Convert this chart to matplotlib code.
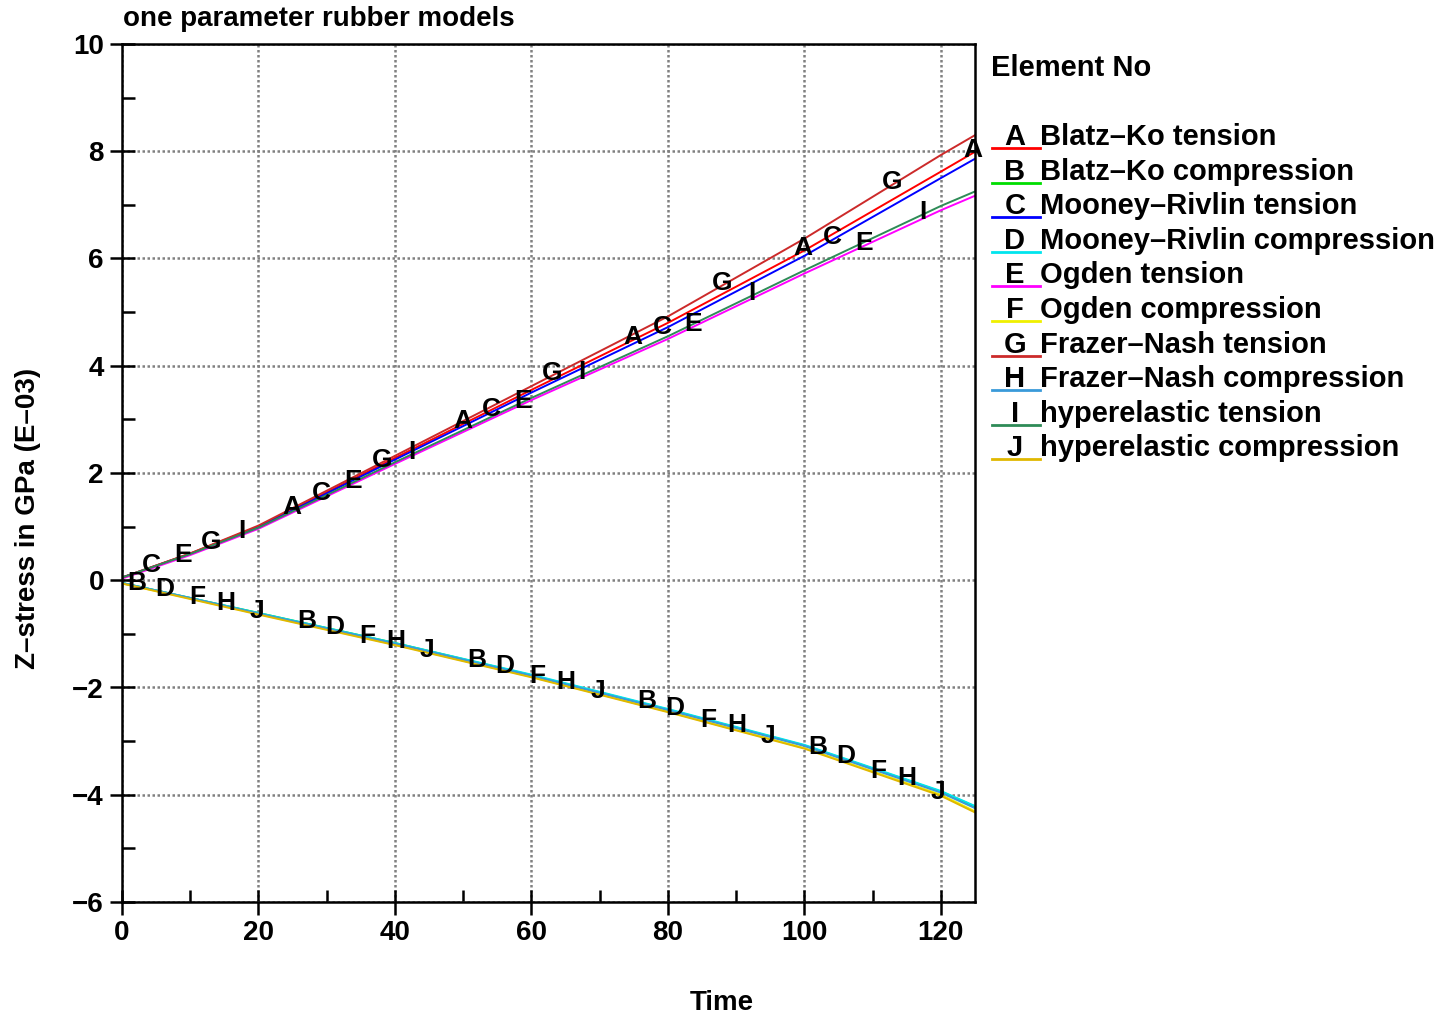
import numpy as np
import matplotlib
matplotlib.use("Agg")
import matplotlib.pyplot as plt
from matplotlib.lines import Line2D

plt.rcParams['font.family'] = ['Liberation Sans', 'DejaVu Sans']
plt.rcParams['font.weight'] = 'bold'

# sample times
time = [0, 10, 20, 40, 60, 80, 100, 120, 125]

# Z-stress in GPa (E-03)
blatz_ko_t = [0.05, 0.50, 1.00, 2.28, 3.55, 4.80, 6.15, 7.62, 7.99]
blatz_ko_c = [-0.05, -0.33, -0.61, -1.17, -1.77, -2.41, -3.08, -3.94, -4.22]
mooney_t = [0.05, 0.49, 0.99, 2.25, 3.50, 4.72, 6.05, 7.50, 7.86]
mooney_c = [-0.05, -0.33, -0.61, -1.17, -1.76, -2.40, -3.07, -3.93, -4.21]
ogden_t = [0.03, 0.47, 0.96, 2.17, 3.36, 4.50, 5.72, 6.90, 7.17]
ogden_c = [-0.06, -0.34, -0.63, -1.20, -1.80, -2.45, -3.13, -4.00, -4.31]
frazer_t = [0.05, 0.50, 1.02, 2.32, 3.62, 4.92, 6.37, 7.93, 8.30]
frazer_c = [-0.05, -0.33, -0.62, -1.18, -1.78, -2.42, -3.09, -3.96, -4.25]
hyper_t = [0.05, 0.49, 0.98, 2.20, 3.40, 4.55, 5.78, 6.98, 7.25]
hyper_c = [-0.06, -0.35, -0.64, -1.21, -1.81, -2.46, -3.14, -4.02, -4.33]

letters = list("ABCDEFGHIJ")
names = ["Blatz-Ko tension", "Blatz-Ko compression",
         "Mooney-Rivlin tension", "Mooney-Rivlin compression",
         "Ogden tension", "Ogden compression",
         "Frazer-Nash tension", "Frazer-Nash compression",
         "hyperelastic tension", "hyperelastic compression"]
series = [blatz_ko_t, blatz_ko_c, mooney_t, mooney_c, ogden_t, ogden_c,
          frazer_t, frazer_c, hyper_t, hyper_c]
colors = ["#ff0000", "#00dd00", "#0000ff", "#00e5ee", "#ff00ff",
          "#f0f000", "#cc2a2a", "#3a9ad9", "#2e8b57", "#e0b800"]

# letter markers: every 25 time units, staggered per series
label_period = 24.95
label_offsets = [0.0, 2.1, 4.3, 6.2, 8.9, 11.0, 13.1, 15.2, 17.5, 19.8]

fig = plt.figure(figsize=(14.5, 10.21), dpi=100)
ax = fig.add_axes([122 / 1450, 1 - 902 / 1021, (975 - 122) / 1450, (902 - 44) / 1021])

for name, ys, col, let, off in zip(names, series, colors, letters, label_offsets):
    ax.plot(time, ys, color=col, lw=1.4)
    lx = off + label_period * np.arange(0, 6)
    lx = lx[(lx > 1.0) & (lx <= 125)]
    ly = np.interp(lx, time, ys)
    for xx, yy in zip(lx, ly):
        ax.annotate(let, (xx, yy), xytext=(0, 2), textcoords='offset points',
                    ha='center', va='center', fontsize=19, fontweight='bold',
                    annotation_clip=False)

ax.set_xlim(0, 125)
ax.set_ylim(-6, 10)
ax.set_xticks(range(0, 121, 20))
ax.set_xticks(range(10, 125, 20), minor=True)
ax.set_yticks(range(-6, 11, 2))
ax.set_yticks(range(-5, 10, 2), minor=True)
ax.grid(True, which='major', color='#808080', linestyle=(0, (1, 1)), lw=1.8)
ax.tick_params(which='major', direction='inout', length=18, width=1.8,
               labelsize=20, pad=4)
ax.tick_params(which='minor', direction='in', length=9, width=1.8)
for sp in ax.spines.values():
    sp.set_linewidth(1.8)

fig.text(722 / 1450, 1 - 1003 / 1021, "Time", fontsize=20,
         fontweight='bold', ha='center', va='center')
fig.text(28 / 1450, 1 - 518 / 1021, "Z\u2013stress in GPa (E\u201303)",
         fontsize=20, fontweight='bold', rotation=90, ha='center', va='center')
fig.text(123 / 1450, 1 - 19 / 1021, "one parameter rubber models",
         fontsize=20, fontweight='bold', va='center', ha='left')

# key
fig.text(991 / 1450, 1 - 68 / 1021, "Element No", fontsize=21,
         fontweight='bold', va='center', ha='left')
row0, dy = 137, 34.6
for i, (let, name, col) in enumerate(zip(letters, names, colors)):
    yc = row0 + i * dy
    fig.add_artist(Line2D([992 / 1450, 1040 / 1450],
                          [1 - (yc + 11) / 1021, 1 - (yc + 11) / 1021],
                          color=col, lw=2))
    fig.text(1015 / 1450, 1 - yc / 1021, let, fontsize=21,
             fontweight='bold', va='center', ha='center')
    fig.text(1040 / 1450, 1 - yc / 1021, name.replace("-", "\u2013"),
             fontsize=21, fontweight='bold', va='center', ha='left')

fig.savefig("out.png", dpi=100)
